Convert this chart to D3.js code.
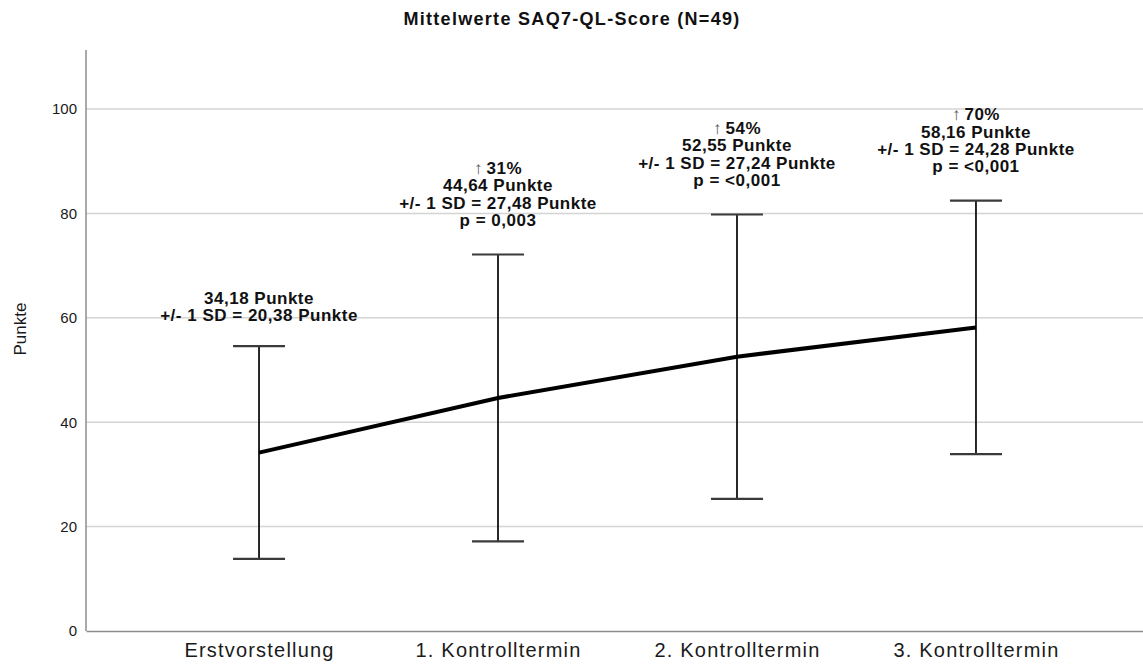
<!DOCTYPE html>
<html>
<head>
<meta charset="utf-8">
<script src="https://cdn.jsdelivr.net/npm/d3@7"></script>
<style>
  html, body { margin: 0; padding: 0; background: #fff; }
  svg { display: block; font-family: "Liberation Sans", Arial, sans-serif; }
</style>
</head>
<body>
<svg id="chart" width="1143" height="664"></svg>
<script>
// Mean SAQ7-QL scores per visit with ±1 SD whiskers
const categories = ["Erstvorstellung", "1. Kontrolltermin", "2. Kontrolltermin", "3. Kontrolltermin"];
const means = [34.18, 44.64, 52.55, 58.16];
const sds = [20.38, 27.48, 27.24, 24.28];
const increases = [null, "31%", "54%", "70%"];
const pValues = [null, "0,003", "<0,001", "<0,001"];
const yTicks = [0, 20, 40, 60, 80, 100];

const fmt = v => v.toFixed(2).replace(".", ",");

const svg = d3.select("#chart");
const W = 1143, H = 664;
const margin = { left: 86, top: 50, bottom: 33 };
const yMax = 111.3;

const x = d3.scalePoint()
  .domain(categories)
  .range([margin.left, 1149])
  .padding(0.724);

const y = d3.scaleLinear()
  .domain([0, yMax])
  .range([H - margin.bottom, margin.top]);

// horizontal grid lines
svg.append("g")
  .selectAll("line")
  .data(yTicks.filter(t => t > 0))
  .join("line")
  .attr("x1", margin.left)
  .attr("x2", W)
  .attr("y1", d => y(d))
  .attr("y2", d => y(d))
  .attr("stroke", "#d4d4d4")
  .attr("stroke-width", 1.5);

// y axis
const yAxis = svg.append("g")
  .attr("transform", `translate(${margin.left},0)`)
  .call(d3.axisLeft(y).tickValues(yTicks).tickSize(0).tickPadding(9));
yAxis.select(".domain").remove();
yAxis.selectAll("text")
  .attr("font-size", 15)
  .attr("fill", "#1a1a1a")
  .attr("font-family", "Liberation Sans, Arial, sans-serif");

svg.append("line")
  .attr("x1", margin.left).attr("x2", margin.left)
  .attr("y1", y(yMax)).attr("y2", y(0))
  .attr("stroke", "#8c8c8c").attr("stroke-width", 1.5);

// x axis
const xAxis = svg.append("g")
  .attr("transform", `translate(0,${y(0)})`)
  .call(d3.axisBottom(x).tickSize(0).tickPadding(12));
xAxis.select(".domain")
  .attr("stroke", "#8c8c8c")
  .attr("stroke-width", 1.5);
xAxis.selectAll("text")
  .attr("font-size", 20)
  .attr("letter-spacing", 1.2)
  .attr("fill", "#1a1a1a")
  .attr("font-family", "Liberation Sans, Arial, sans-serif");

// y axis title
svg.append("text")
  .attr("transform", "translate(26,329) rotate(-90)")
  .attr("text-anchor", "middle")
  .attr("font-size", 17)
  .attr("fill", "#1a1a1a")
  .text("Punkte");

// chart title
svg.append("text")
  .attr("x", 572)
  .attr("y", 25)
  .attr("text-anchor", "middle")
  .attr("font-size", 18)
  .attr("letter-spacing", 1.3)
  .attr("font-weight", "bold")
  .attr("fill", "#111")
  .text("Mittelwerte SAQ7-QL-Score (N=49)");

const rows = categories.map((c, i) => ({ c, mean: means[i], sd: sds[i], inc: increases[i], p: pValues[i] }));

// error bars
const capHalf = 26;
const eb = svg.append("g");
eb.selectAll("line.stem")
  .data(rows)
  .join("line")
  .attr("class", "stem")
  .attr("x1", d => x(d.c)).attr("x2", d => x(d.c))
  .attr("y1", d => y(d.mean - d.sd)).attr("y2", d => y(d.mean + d.sd))
  .attr("stroke", "#111").attr("stroke-width", 1.8);
["upper", "lower"].forEach(k => {
  eb.selectAll("line.cap-" + k)
    .data(rows)
    .join("line")
    .attr("class", "cap-" + k)
    .attr("x1", d => x(d.c) - capHalf).attr("x2", d => x(d.c) + capHalf)
    .attr("y1", d => y(k === "upper" ? d.mean + d.sd : d.mean - d.sd))
    .attr("y2", d => y(k === "upper" ? d.mean + d.sd : d.mean - d.sd))
    .attr("stroke", "#3a3a3a").attr("stroke-width", 2.2);
});

// mean line
svg.append("path")
  .datum(rows)
  .attr("fill", "none")
  .attr("stroke", "#000")
  .attr("stroke-width", 4)
  .attr("d", d3.line().x(d => x(d.c)).y(d => y(d.mean)));

// value labels above each whisker
const lineH = 17.3;
rows.forEach(d => {
  const lines = [];
  if (d.inc) lines.push({ arrow: true, t: d.inc });
  lines.push({ t: fmt(d.mean) + " Punkte" });
  lines.push({ t: "+/- 1 SD = " + fmt(d.sd) + " Punkte" });
  if (d.p) lines.push({ t: "p = " + d.p });
  const n = lines.length;
  const baseY = y(d.mean + d.sd) - (n > 2 ? 28.5 : 25);
  lines.forEach((ln, j) => {
    const t = svg.append("text")
      .attr("x", x(d.c))
      .attr("y", baseY - (n - 1 - j) * lineH)
      .attr("text-anchor", "middle")
      .attr("font-size", 17)
      .attr("letter-spacing", 0.5)
      .attr("font-weight", "bold")
      .attr("fill", "#111");
    if (ln.arrow) {
      t.append("tspan")
        .attr("font-family", "Liberation Sans, sans-serif")
        .attr("font-weight", "normal")
        .attr("letter-spacing", 0)
        .attr("fill", "#555")
        .attr("font-size", 17)
        .text("\u2191");
      t.append("tspan").attr("dx", 4).text(ln.t);
    } else {
      t.text(ln.t);
    }
  });
});
</script>
</body>
</html>
